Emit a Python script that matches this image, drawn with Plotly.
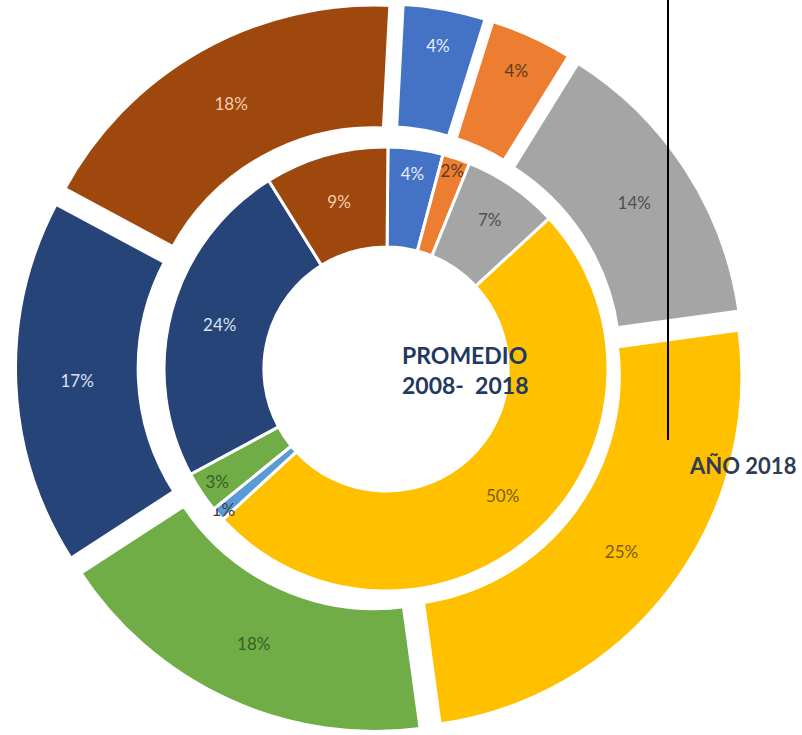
import plotly.graph_objects as go

# Colour per category (Office palette)
cat_colors = {
    "Azul": "#4472C4",
    "Naranja": "#ED7D31",
    "Gris": "#A5A5A5",
    "Amarillo": "#FFC000",
    "Azul claro": "#5B9BD5",
    "Verde": "#70AD47",
    "Azul oscuro": "#264478",
    "Marrón": "#9E480E",
}
cat_text = {
    "Azul": "#E6ECF8",
    "Naranja": "#5A3A20",
    "Gris": "#4F4F4F",
    "Amarillo": "#7A5C10",
    "Azul claro": "#404040",
    "Verde": "#3B5E25",
    "Azul oscuro": "#D9E1F2",
    "Marrón": "#F8CBAD",
}

# Inner ring: PROMEDIO 2008-2018
inner_labels = ["Azul", "Naranja", "Gris", "Amarillo", "Azul claro", "Verde", "Azul oscuro", "Marrón"]
inner_values = [4, 2, 7, 50, 1, 3, 24, 9]

# Outer ring: AÑO 2018
outer_labels = ["Azul", "Naranja", "Gris", "Amarillo", "Verde", "Azul oscuro", "Marrón"]
outer_values = [4, 4, 14, 25, 18, 17, 18]

W, H = 802, 735

def dom(cx, cy, half):
    return dict(x=[(cx - half) / W, (cx + half) / W],
                y=[(H - cy - half) / H, (H - cy + half) / H])

font_family = "Lato, 'Open Sans', sans-serif"

fig = go.Figure()

fig.add_trace(go.Pie(
    labels=outer_labels, values=outer_values,
    sort=False, direction="clockwise", rotation=3,
    hole=0.64, pull=[0.035] * len(outer_values),
    domain=dom(380, 368, 367),
    marker=dict(colors=[cat_colors[c] for c in outer_labels],
                line=dict(color="white", width=8)),
    textinfo="percent", textposition="inside",
    insidetextorientation="horizontal",
    textfont=dict(family=font_family, size=17,
                  color=[cat_text[c] for c in outer_labels]),
    showlegend=False, name="AÑO 2018",
))

fig.add_trace(go.Pie(
    labels=inner_labels, values=inner_values,
    sort=False, direction="clockwise", rotation=0.5,
    hole=0.55,
    domain=dom(386, 369, 222),
    marker=dict(colors=[cat_colors[c] for c in inner_labels],
                line=dict(color="white", width=3)),
    textinfo="percent", textposition="inside",
    insidetextorientation="horizontal",
    textfont=dict(family=font_family, size=17,
                  color=[cat_text[c] for c in inner_labels]),
    showlegend=False, name="PROMEDIO 2008-2018",
))

fig.update_layout(
    width=W, height=H,
    margin=dict(l=0, r=0, t=0, b=0),
    paper_bgcolor="white", plot_bgcolor="white",
    uniformtext=dict(minsize=17, mode="show"),
    showlegend=False,
    shapes=[dict(type="line", xref="paper", yref="paper",
                 x0=668 / W, x1=668 / W, y0=(H - 440) / H, y1=1.0,
                 line=dict(color="black", width=2))],
    annotations=[
        dict(text="<b>PROMEDIO<br>2008-  2018</b>", xref="paper", yref="paper",
             x=465 / W, y=(H - 370) / H, showarrow=False, align="left",
             xanchor="center", yanchor="middle",
             font=dict(family=font_family, size=23, color="#1F3864")),
        dict(text="<b>AÑO 2018</b>", xref="paper", yref="paper",
             x=742 / W, y=(H - 465) / H, showarrow=False,
             xanchor="center", yanchor="middle",
             font=dict(family=font_family, size=22, color="#2F3B55")),
    ],
)

fig.write_html("out.html",
               config={"displayModeBar": False},
               post_script="document.body.style.margin='0px';document.body.style.overflow='hidden';")
